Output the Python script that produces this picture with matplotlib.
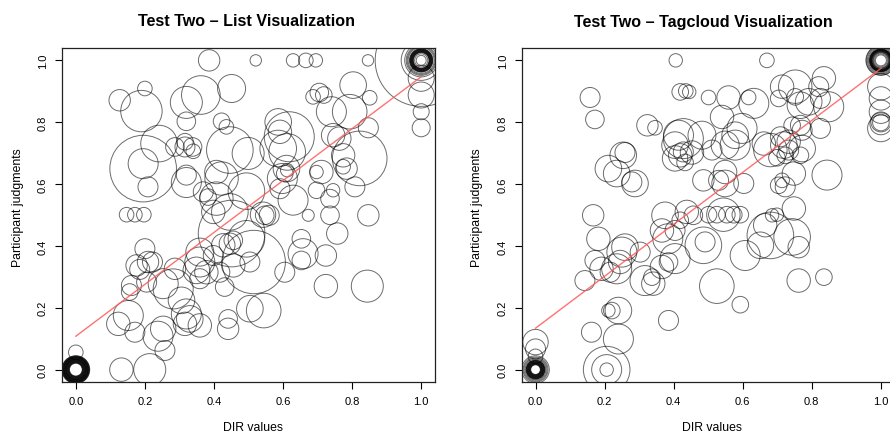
import matplotlib
matplotlib.use("Agg")
import matplotlib.pyplot as plt
import numpy as np

plt.rcParams['font.family'] = ['Liberation Sans', 'DejaVu Sans']

# ---------------- data: Test Two - List Visualization ----------------
list_x = [0.386, 0.521, 0.629, 0.666, 0.695, 0.846,
          0.200, 0.127, 0.190, 0.320, 0.362, 0.451, 0.320, 0.422, 0.436, 0.586,
          0.591, 0.618, 0.687, 0.705, 0.718, 0.740, 0.803, 0.793, 0.851, 0.847,
          0.745, 0.763, 0.822, 0.774, 0.774, 0.784, 0.808, 0.745, 0.736, 0.697,
          0.711, 0.736, 0.757, 0.847, 0.724, 0.724, 0.844, 0.673, 0.653, 0.658,
          0.653, 0.629, 0.610, 0.598, 0.605, 0.612, 0.586, 0.612, 0.591, 0.542,
          0.547, 0.560, 0.515, 0.451, 0.494, 0.494, 0.499, 0.446, 0.407, 0.422,
          0.369, 0.383, 0.398, 0.446, 0.407, 0.320, 0.320, 0.287, 0.316, 0.338,
          0.340, 0.316, 0.241, 0.195, 0.195, 0.209, 0.147, 0.171, 0.197, 0.200,
          0.176, 0.185, 0.209, 0.222, 0.161, 0.156, 0.205, 0.253, 0.282, 0.287,
          0.320, 0.330, 0.316, 0.306, 0.253, 0.238, 0.258, 0.171, 0.123, 0.152,
          0.132, 0.214, 0.359, 0.359, 0.359, 0.349, 0.378, 0.398, 0.417, 0.431,
          0.427, 0.446, 0.456, 0.441, 0.441, 0.504, 0.544, 0.504, 0.605, 0.456,
          0.697, 0.359,
          1.0, 1.0, 1.0, 1.0,
          0.0,
          0.0, 0.0, 0.0, 0.0, 0.0, 0.0, 0.0, 0.0, 0.0, 0.0, 0.0, 0.0, 0.0, 0.0,
          0.0, 0.0, 0.0, 0.0, 0.0, 0.0, 0.0, 0.0, 0.0, 0.0, 0.0, 0.0, 0.0, 0.0,
          1.0, 1.0, 1.0, 1.0, 1.0, 1.0, 1.0, 1.0, 1.0, 1.0, 1.0, 1.0, 1.0, 1.0,
          1.0, 1.0, 1.0, 1.0, 1.0, 1.0, 1.0, 1.0]
list_y = [1.0, 1.0, 1.0, 1.0, 1.0, 1.0,
          0.909, 0.871, 0.836, 0.864, 0.888, 0.909, 0.803, 0.803, 0.785, 0.801,
          0.769, 0.753, 0.882, 0.896, 0.888, 0.834, 0.920, 0.834, 0.879, 0.782,
          0.758, 0.747, 0.683, 0.693, 0.656, 0.650, 0.591, 0.580, 0.553, 0.639,
          0.639, 0.499, 0.440, 0.499, 0.369, 0.270, 0.270, 0.499, 0.423, 0.375,
          0.353, 0.548, 0.650, 0.618, 0.634, 0.645, 0.715, 0.704, 0.585, 0.501,
          0.499, 0.499, 0.348, 0.440, 0.423, 0.577, 0.699, 0.710, 0.639, 0.618,
          0.575, 0.558, 0.510, 0.510, 0.553, 0.605, 0.629, 0.720, 0.720, 0.720,
          0.706, 0.737, 0.731, 0.650, 0.666, 0.591, 0.501, 0.501, 0.501, 0.391,
          0.337, 0.324, 0.348, 0.348, 0.272, 0.251, 0.283, 0.278, 0.261, 0.326,
          0.180, 0.164, 0.148, 0.224, 0.132, 0.108, 0.062, 0.121, 0.148, 0.175,
          0.000, 0.000, 0.143, 0.380, 0.348, 0.321, 0.315, 0.369, 0.315, 0.267,
          0.402, 0.407, 0.418, 0.164, 0.132, 0.197, 0.191, 0.348, 0.315, 0.337,
          0.580, 0.294,
          0.942, 0.888, 0.834, 0.782,
          0.056,
          0.0, 0.0, 0.0, 0.0, 0.0, 0.0, 0.0, 0.0, 0.0, 0.0, 0.0, 0.0, 0.0, 0.0,
          0.0, 0.0, 0.0, 0.0, 0.0, 0.0, 0.0, 0.0, 0.0, 0.0, 0.0, 0.0, 0.0, 0.0,
          1.0, 1.0, 1.0, 1.0, 1.0, 1.0, 1.0, 1.0, 1.0, 1.0, 1.0, 1.0, 1.0, 1.0,
          1.0, 1.0, 1.0, 1.0, 1.0, 1.0, 1.0, 1.0]
list_size = [10.7, 5.7, 6.7, 7.3, 6.7, 5.7,
             7.3, 10.7, 20.7, 16.0, 19.3, 14.0, 9.3, 8.3, 7.3, 13.3,
             11.7, 25.0, 7.3, 9.3, 8.3, 15.0, 13.3, 17.3, 7.3, 10.0,
             11.7, 11.7, 27.3, 11.7, 7.3, 10.7, 10.0, 6.7, 9.3, 6.7,
             11.7, 9.3, 10.7, 10.7, 10.7, 11.7, 16.0, 6.0, 9.3, 15.0,
             9.3, 15.0, 13.3, 15.0, 8.3, 6.7, 18.3, 18.3, 10.0, 12.7,
             9.3, 10.0, 31.7, 33.3, 18.3, 18.3, 16.0, 23.3, 11.7, 16.7,
             10.0, 8.3, 11.7, 18.3, 16.7, 15.0, 10.0, 9.3, 10.0, 9.3,
             7.3, 8.3, 18.3, 33.3, 15.0, 10.0, 7.3, 7.3, 7.3, 10.0,
             10.7, 10.0, 10.7, 10.0, 10.0, 8.3, 10.0, 15.0, 20.0, 10.7,
             15.0, 13.3, 11.7, 13.3, 12.7, 15.0, 10.0, 10.0, 11.7, 15.0,
             11.7, 16.0, 11.7, 14.0, 15.0, 13.3, 11.7, 10.0, 10.0, 9.3,
             11.7, 10.7, 9.3, 9.3, 10.7, 13.3, 17.3, 10.0, 10.0, 11.7,
             8.3, 10.0,
             13.0, 13.0, 8.0, 9.0,
             7.3,
             6.4, 6.7, 7.0, 7.3, 7.6, 7.9, 8.2, 8.5, 8.8, 9.1, 9.4, 9.7, 10.0, 10.3,
             10.6, 10.9, 11.2, 11.5, 11.8, 12.1, 12.4, 12.7, 13.0, 13.3, 13.6, 13.9, 12.0, 10.0,
             5.0, 6.6, 7.8, 8.1, 8.4, 8.7, 9.0, 9.3, 9.6, 9.9, 10.2, 10.5, 10.8, 11.1,
             11.4, 11.7, 13.0, 14.0, 15.0, 16.5, 20.0, 46.0]

# ---------------- data: Test Two - Tagcloud Visualization ----------------
tag_x = [0.406, 0.670,
         0.158, 0.172, 0.324, 0.346, 0.419, 0.435, 0.445, 0.501, 0.559, 0.617,
         0.632, 0.540, 0.598, 0.578, 0.549, 0.578, 0.482, 0.428, 0.414, 0.404,
         0.404, 0.419, 0.428, 0.433, 0.453, 0.511, 0.486, 0.549, 0.549, 0.603,
         0.661, 0.680, 0.709, 0.719, 0.733, 0.733, 0.699, 0.723, 0.704, 0.723,
         0.748, 0.748, 0.743, 0.767, 0.772, 0.767, 0.752, 0.714, 0.704, 0.752,
         0.820, 0.835, 0.825, 0.849, 0.791, 0.825, 0.772, 0.767, 0.844, 0.762,
         0.743, 0.680, 0.665, 0.685, 0.699, 0.651, 0.607, 0.593, 0.525, 0.486,
         0.491, 0.544, 0.501, 0.525, 0.554, 0.574, 0.593, 0.438, 0.457, 0.419,
         0.375, 0.404, 0.383, 0.404, 0.385, 0.366, 0.337, 0.341, 0.317, 0.303,
         0.250, 0.259, 0.245, 0.235, 0.216, 0.191, 0.172, 0.182, 0.167, 0.143,
         0.211, 0.235, 0.254, 0.259, 0.288, 0.279, 0.211, 0.221, 0.240, 0.240,
         0.162, 0.385, 0.206, 0.206, 0.206, 0.0, 0.0, 0.0, 0.835, 0.762,
         0.530, 0.366, 0.714,
         1.0, 1.0, 1.0, 1.0, 1.0, 1.0, 1.0,
         0.0, 0.0, 0.0, 0.0, 0.0, 0.0, 0.0, 0.0, 0.0, 0.0, 0.0, 0.0, 0.0, 0.0,
         0.0, 0.0, 0.0, 0.0, 0.0, 0.0, 0.0,
         1.0, 1.0, 1.0, 1.0, 1.0, 1.0, 1.0, 1.0, 1.0, 1.0, 1.0, 1.0, 1.0, 1.0,
         1.0, 1.0, 1.0, 1.0, 1.0, 1.0]
tag_y = [1.0, 1.0,
         0.880, 0.809, 0.790, 0.782, 0.898, 0.901, 0.898, 0.880, 0.880, 0.880,
         0.861, 0.817, 0.780, 0.758, 0.726, 0.726, 0.758, 0.747, 0.758, 0.726,
         0.683, 0.693, 0.704, 0.670, 0.702, 0.710, 0.612, 0.639, 0.602, 0.602,
         0.731, 0.710, 0.753, 0.726, 0.737, 0.710, 0.685, 0.693, 0.596, 0.591,
         0.634, 0.521, 0.790, 0.790, 0.774, 0.855, 0.915, 0.915, 0.877, 0.882,
         0.915, 0.942, 0.877, 0.850, 0.866, 0.780, 0.715, 0.693, 0.629, 0.396,
         0.429, 0.434, 0.467, 0.499, 0.501, 0.402, 0.369, 0.210, 0.270, 0.402,
         0.413, 0.501, 0.501, 0.501, 0.501, 0.501, 0.501, 0.510, 0.499, 0.483,
         0.499, 0.450, 0.423, 0.359, 0.348, 0.332, 0.299, 0.278, 0.288, 0.380,
         0.380, 0.396, 0.348, 0.326, 0.315, 0.326, 0.353, 0.423, 0.499, 0.288,
         0.650, 0.634, 0.693, 0.702, 0.602, 0.607, 0.191, 0.191, 0.191, 0.099,
         0.121, 0.159, 0.0, 0.0, 0.0, 0.089, 0.067, 0.043, 0.299, 0.288,
         0.612, 0.450, 0.612,
         0.915, 0.877, 0.834, 0.801, 0.799, 0.795, 0.780,
         0.0, 0.0, 0.0, 0.0, 0.0, 0.0, 0.0, 0.0, 0.0, 0.0, 0.0, 0.0, 0.0, 0.0,
         0.0, 0.0, 0.0, 0.0, 0.0, 0.0, 0.0,
         1.0, 1.0, 1.0, 1.0, 1.0, 1.0, 1.0, 1.0, 1.0, 1.0, 1.0, 1.0, 1.0, 1.0,
         1.0, 1.0, 1.0, 1.0, 1.0, 1.0]
tag_size = [6.7, 7.3,
            10.0, 9.3, 10.7, 7.3, 8.3, 7.3, 6.7, 7.3, 11.7, 7.3,
            15.0, 11.7, 15.0, 13.3, 14.0, 15.0, 14.0, 20.0, 15.0, 13.3,
            12.7, 11.7, 10.0, 8.3, 11.7, 10.0, 10.7, 11.7, 13.3, 10.0,
            11.7, 16.7, 10.0, 13.3, 11.7, 10.0, 8.3, 8.3, 8.3, 10.0,
            11.7, 11.7, 8.3, 10.0, 10.0, 13.3, 16.7, 11.7, 8.3, 8.3,
            10.0, 11.7, 10.0, 15.0, 13.3, 10.0, 13.3, 8.3, 15.0, 10.7,
            18.3, 23.3, 11.7, 6.7, 6.7, 13.3, 15.0, 8.3, 17.3, 18.3,
            10.0, 16.7, 8.3, 8.3, 8.3, 8.3, 8.3, 11.7, 9.3, 8.3,
            13.3, 10.0, 15.0, 15.0, 9.3, 11.7, 8.3, 11.7, 15.0, 10.0,
            15.0, 13.3, 11.7, 15.0, 10.0, 11.7, 10.0, 11.7, 10.7, 10.0,
            13.3, 13.3, 13.3, 10.0, 13.3, 10.0, 6.7, 8.3, 13.3, 15.0,
            10.0, 10.0, 23.3, 15.0, 6.7, 12.7, 10.0, 7.3, 8.3, 11.7,
            10.0, 11.7, 7.3,
            13.3, 11.7, 11.7, 10.0, 8.3, 11.0, 13.3,
            4.8, 5.1, 5.4, 5.7, 6.0, 6.3, 6.6, 6.9, 7.2, 7.5, 7.8, 8.1, 8.4, 8.7,
            9.0, 9.3, 9.6, 10.5, 11.5, 12.5, 13.8,
            5.5, 6.5, 7.5, 8.5, 9.0, 9.25, 9.5, 9.75, 10.0, 10.25, 10.5, 10.75, 11.0, 11.25,
            11.5, 12.5, 13.5, 14.5, 15.0, 8.0]

# regression fits (intercept, slope) over DIR values 0..1
list_fit = (0.108, 0.839)
tag_fit = (0.134, 0.840)

titles = ["Test Two \u2013 List Visualization", "Test Two \u2013 Tagcloud Visualization"]
ticks = [0.0, 0.2, 0.4, 0.6, 0.8, 1.0]
tick_labels = ["0.0", "0.2", "0.4", "0.6", "0.8", "1.0"]

# ---------------- figure ----------------
W, H, DPI = 890, 435, 100
fig = plt.figure(figsize=(W / DPI, H / DPI), dpi=DPI)
px2pt = 72.0 / DPI

panels = [
    (62, list_x, list_y, list_size, list_fit, titles[0], 247, 18, 253),
    (521.7, tag_x, tag_y, tag_size, tag_fit, titles[1], 703, 477, 712),
]
ax_w, ax_top, ax_bot = 373, 49, 383
for left, xs, ys, ss, fit, title, tx, ylx, xlx in panels:
    ax = fig.add_axes([left / W, 1 - ax_bot / H, ax_w / W, (ax_bot - ax_top) / H])
    ax.set_xlim(-0.04, 1.04)
    ax.set_ylim(-0.04, 1.04)
    sizes = [(2 * r * px2pt) ** 2 for r in ss]
    ax.scatter(xs, ys, s=sizes, facecolors='none',
               edgecolors=(0, 0, 0, 0.58), linewidths=0.7)
    fx = np.array([0.0, 1.0])
    ax.plot(fx, fit[0] + fit[1] * fx, color=(1, 0.35, 0.35, 0.85), lw=1.0)
    ax.set_xticks(ticks)
    ax.set_xticklabels(tick_labels)
    ax.set_yticks(ticks)
    ax.set_yticklabels(tick_labels)
    ax.tick_params(direction='out', length=5, width=0.8, labelsize=8, color='black')
    ax.tick_params(axis='x', pad=5)
    ax.tick_params(axis='y', pad=5)
    for lab in ax.get_yticklabels():
        lab.set_rotation(90)
        lab.set_va('center')
    for sp in ax.spines.values():
        sp.set_linewidth(0.9)
        sp.set_color('#222222')
    fig.text(tx / W, 1 - 22 / H, title, ha='center', va='center',
             fontsize=11.6, fontweight='bold')
    fig.text(ylx / W, 1 - 208 / H, "Participant judgments", ha='center', va='center',
             rotation=90, fontsize=8.8)
    fig.text(xlx / W, 1 - 428 / H, "DIR values", ha='center', va='center', fontsize=8.8)

fig.savefig("out.png", dpi=DPI, facecolor='white')
